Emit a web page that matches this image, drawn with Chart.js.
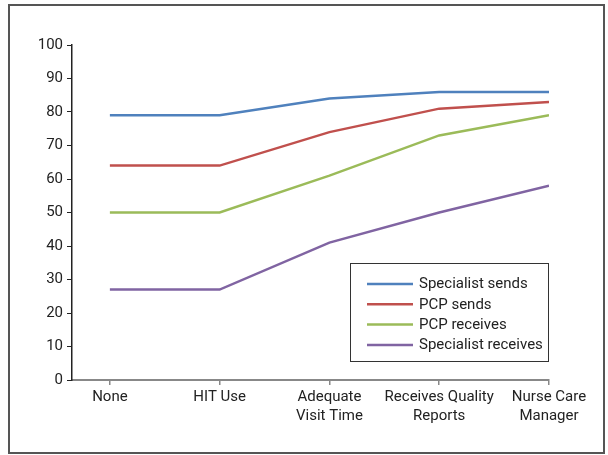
<!DOCTYPE html>
<html>
<head>
<meta charset="utf-8">
<script src="https://cdn.jsdelivr.net/npm/chart.js@4.4.1/dist/chart.umd.min.js"></script>
<style>
  html, body { margin: 0; padding: 0; background: #fff; }
  #wrap { position: relative; width: 608px; height: 455px; }
</style>
</head>
<body>
<div id="wrap"><canvas id="c" width="608" height="455"></canvas></div>
<script>
const categories = [["None"], ["HIT Use"], ["Adequate", "Visit Time"], ["Receives Quality", "Reports"], ["Nurse Care", "Manager"]];
const seriesNames = ["Specialist sends", "PCP sends", "PCP receives", "Specialist receives"];
const specialistSends = [79, 79, 84, 86, 86];
const pcpSends = [64, 64, 74, 81, 83];
const pcpReceives = [50, 50, 61, 73, 79];
const specialistReceives = [27, 27, 41, 50, 58];
const yTicks = [0, 10, 20, 30, 40, 50, 60, 70, 80, 90, 100];

const colors = ["#4F81BD", "#C0504D", "#9BBB59", "#8064A2"];
const FONT = "Roboto, 'Liberation Sans', Arial, sans-serif";
const FSIZE = 15;
const seriesValues = [specialistSends, pcpSends, pcpReceives, specialistReceives];

const datasets = seriesValues.map((vals, k) => ({
  label: seriesNames[k],
  data: vals.map((v, i) => ({ x: i, y: v })),
  borderColor: colors[k],
  backgroundColor: colors[k],
  borderWidth: 2.5,
  pointRadius: 0,
  tension: 0,
  fill: false
}));

const framePlugin = {
  id: 'frame',
  afterDraw(chart) {
    const ctx = chart.ctx;
    ctx.save();
    ctx.strokeStyle = '#555';
    ctx.lineWidth = 2;
    ctx.strokeRect(9, 5, 595, 448);
    // legend
    const lx = 350.5, ly = 263.5, lw = 198, lh = 98;
    ctx.lineWidth = 1;
    ctx.strokeStyle = '#333';
    ctx.strokeRect(lx, ly, lw, lh);
    ctx.font = FSIZE + 'px ' + FONT;
    ctx.textBaseline = 'middle';
    ctx.textAlign = 'left';
    chart.data.datasets.forEach((ds, i) => {
      const y = 284 + i * 20.3;
      ctx.strokeStyle = ds.borderColor;
      ctx.lineWidth = 2.5;
      ctx.beginPath();
      ctx.moveTo(367, y);
      ctx.lineTo(413, y);
      ctx.stroke();
      ctx.fillStyle = '#222';
      ctx.fillText(ds.label, 419, y + 0.5);
    });
    ctx.restore();
  }
};

new Chart(document.getElementById('c'), {
  type: 'line',
  data: { datasets },
  options: {
    responsive: false,
    animation: false,
    devicePixelRatio: 1,
    layout: { padding: { top: 45, right: 59, left: 0, bottom: 0 } },
    plugins: { legend: { display: false }, tooltip: { enabled: false } },
    scales: {
      x: {
        type: 'linear',
        min: -0.345,
        max: categories.length - 1,
        afterBuildTicks(scale) { scale.ticks = categories.map((_, i) => ({ value: i })); },
        afterFit(scale) { scale.height = 75; },
        border: { display: true, color: '#888', width: 2 },
        grid: { display: true, drawOnChartArea: false, drawTicks: true, tickLength: 5, color: '#888', lineWidth: 1.5 },
        ticks: {
          autoSkip: false,
          maxRotation: 0,
          padding: 3,
          color: '#222',
          font: { family: FONT, size: FSIZE, lineHeight: 1.25 },
          callback: (v) => categories[v]
        }
      },
      y: {
        min: 0,
        max: 100,
        afterBuildTicks(scale) { scale.ticks = yTicks.map(v => ({ value: v })); },
        afterFit(scale) { scale.width = 72; },
        border: { display: true, color: '#222', width: 1.5 },
        grid: { display: true, drawOnChartArea: false, drawTicks: true, tickLength: 5, color: '#222', lineWidth: 1 },
        ticks: {
          padding: 4,
          color: '#222',
          font: { family: FONT, size: FSIZE }
        }
      }
    }
  },
  plugins: [framePlugin]
});
</script>
</body>
</html>
